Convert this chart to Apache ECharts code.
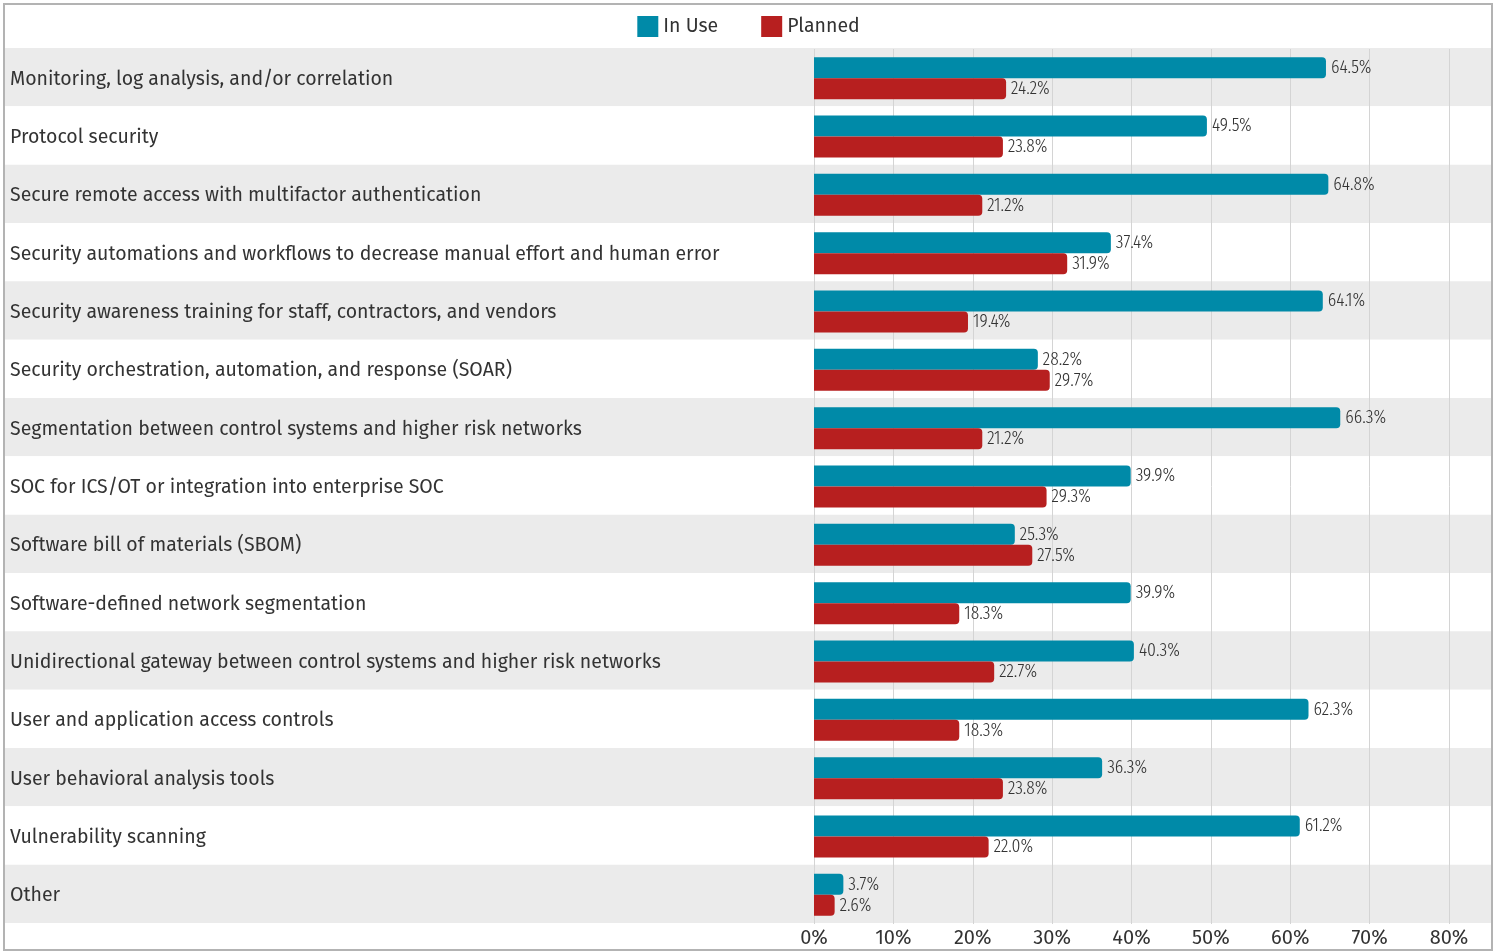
<!DOCTYPE html>
<html>
<head>
<meta charset="utf-8">
<script src="https://cdn.jsdelivr.net/npm/echarts@6/dist/echarts.min.js"></script>
<style>
  html, body { margin: 0; padding: 0; background: #ffffff; }
  #chart { position: absolute; left: 0; top: 0; width: 1497px; height: 952px; }
  #frame { position: absolute; left: 3px; top: 3px; width: 1490px; height: 948px;
           box-sizing: border-box; border: 2px solid #b3b3b3; pointer-events: none; }
</style>
</head>
<body>
<div id="chart"></div>
<div id="frame"></div>
<script>
// Security technologies: share of respondents using vs planning each control
const categories = [
  'Monitoring, log analysis, and/or correlation',
  'Protocol security',
  'Secure remote access with multifactor authentication',
  'Security automations and workflows to decrease manual effort and human error',
  'Security awareness training for staff, contractors, and vendors',
  'Security orchestration, automation, and response (SOAR)',
  'Segmentation between control systems and higher risk networks',
  'SOC for ICS/OT or integration into enterprise SOC',
  'Software bill of materials (SBOM)',
  'Software-defined network segmentation',
  'Unidirectional gateway between control systems and higher risk networks',
  'User and application access controls',
  'User behavioral analysis tools',
  'Vulnerability scanning',
  'Other'
];
const inUse   = [64.5, 49.5, 64.8, 37.4, 64.1, 28.2, 66.3, 39.9, 25.3, 39.9, 40.3, 62.3, 36.3, 61.2, 3.7];
const planned = [24.2, 23.8, 21.2, 31.9, 19.4, 29.7, 21.2, 29.3, 27.5, 18.3, 22.7, 18.3, 23.8, 22.0, 2.6];
const seriesNames = ['In Use', 'Planned'];
const xTicks = [0, 10, 20, 30, 40, 50, 60, 70, 80];

const TEAL = '#008aa8';
const RED = '#b71f1f';
const TEXT = '#333333';
const LABEL_FONT = '"Fira Sans", "Noto Sans", sans-serif';
const VALUE_FONT = '"Fira Sans Extra Condensed", "Fira Sans Condensed", "Roboto Condensed", sans-serif';

const chart = echarts.init(document.getElementById('chart'), null, { renderer: 'canvas' });

const valueLabel = {
  show: true,
  position: 'right',
  distance: 5,
  color: TEXT,
  fontFamily: VALUE_FONT,
  fontWeight: 300,
  fontSize: 19,
  formatter: p => p.value.toFixed(1) + '%'
};

chart.setOption({
  animation: false,
  backgroundColor: '#ffffff',
  textStyle: { fontFamily: LABEL_FONT },
  legend: {
    data: seriesNames,
    top: 11,
    left: 'center',
    icon: 'rect',
    itemWidth: 21,
    itemHeight: 21,
    itemGap: 43,
    textStyle: { fontSize: 19.5, color: TEXT, fontFamily: LABEL_FONT }
  },
  grid: [
    // full-width band grid carrying row stripes and category names
    { left: 4, right: 5, top: 48, bottom: 29, containLabel: false },
    // plotting grid for the bars
    { left: 814, right: 48, top: 49, bottom: 28, containLabel: false }
  ],
  xAxis: [
    { gridIndex: 0, type: 'value', show: false, min: 0, max: 1 },
    {
      gridIndex: 1, type: 'value', min: 0, max: 80, interval: 10, z: 1,
      axisLine: { show: false }, axisTick: { show: false },
      splitLine: { show: true, lineStyle: { color: '#d4d4d4', width: 1 } },
      axisLabel: {
        margin: 4, color: TEXT, fontSize: 20, fontFamily: LABEL_FONT,
        formatter: v => (xTicks.indexOf(v) >= 0 ? v + '%' : '')
      }
    }
  ],
  yAxis: [
    {
      gridIndex: 0, type: 'category', data: categories, inverse: true, z: 0,
      axisLine: { show: false }, axisTick: { show: false },
      splitLine: { show: false },
      splitArea: { show: true, areaStyle: { color: ['#ebebeb', '#ffffff'] } },
      axisLabel: {
        inside: true, margin: 6, color: TEXT, fontSize: 19.5, fontFamily: LABEL_FONT,
        formatter: v => '{c|' + v + '}',
        rich: { c: { fontSize: 19.5, fontFamily: LABEL_FONT, color: TEXT, padding: [4, 0, 0, 0] } }
      }
    },
    {
      gridIndex: 1, type: 'category', data: categories, inverse: true,
      axisLine: { show: false }, axisTick: { show: false },
      axisLabel: { show: false }, splitLine: { show: false }
    }
  ],
  series: [
    {
      name: seriesNames[0], type: 'bar', xAxisIndex: 1, yAxisIndex: 1,
      data: inUse, barWidth: 21, barGap: '0%', z: 3,
      itemStyle: { color: TEAL, borderRadius: [0, 4, 4, 0] },
      label: valueLabel
    },
    {
      name: seriesNames[1], type: 'bar', xAxisIndex: 1, yAxisIndex: 1,
      data: planned, barWidth: 21, barGap: '0%', z: 3,
      itemStyle: { color: RED, borderRadius: [0, 4, 4, 0] },
      label: valueLabel
    }
  ]
});
</script>
</body>
</html>
